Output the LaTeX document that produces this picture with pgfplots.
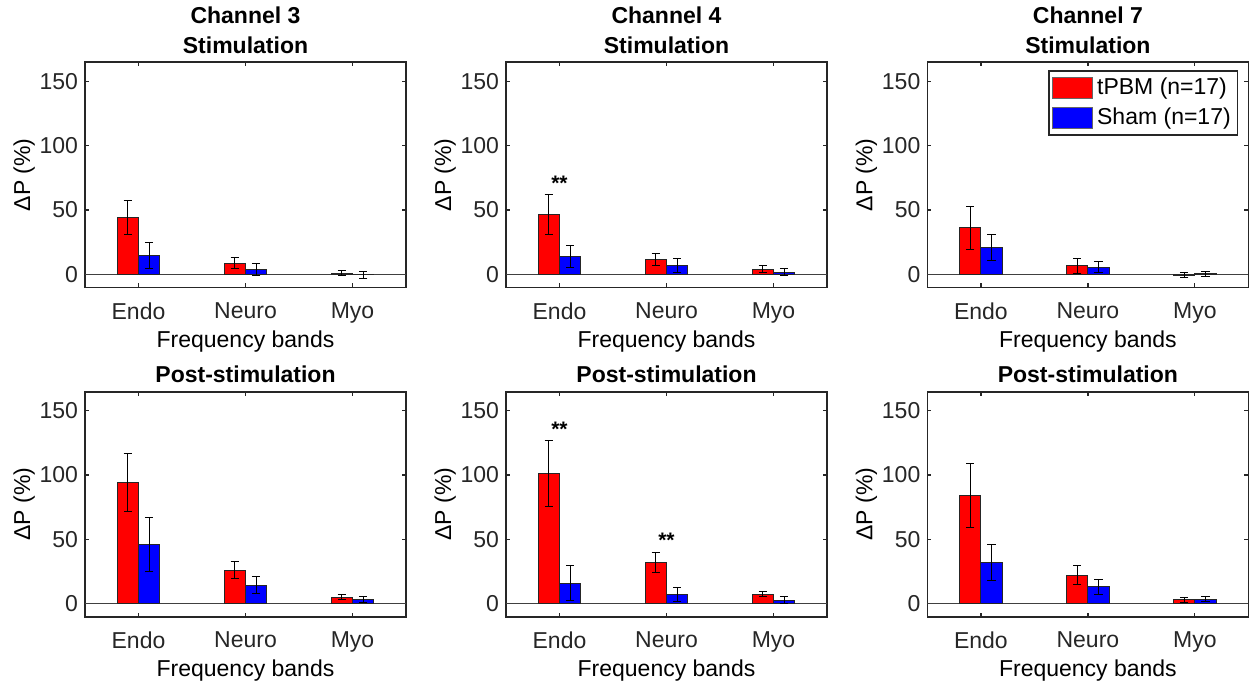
\documentclass[border=0pt]{standalone}
\usepackage{pgfplots}
\usepackage{pgfplotstable}
\pgfplotsset{compat=1.18}
\usepackage{fontspec}
\setmainfont{Liberation Sans}
\definecolor{axgray}{rgb}{0.15,0.15,0.15}

% columns: x, tPBM mean, tPBM err, Sham mean, Sham err
\pgfplotstableread{
x r re b be
1 44.0 13.4 14.7 10.0
2 8.8 4.1 3.9 4.5
3 0.8 2.0 -0.2 2.6
}\tA
\pgfplotstableread{
x r re b be
1 46.5 15.3 14.0 8.3
2 11.4 4.7 7.0 5.2
3 3.9 2.7 1.8 3.0
}\tB
\pgfplotstableread{
x r re b be
1 36.2 16.5 20.7 9.9
2 6.7 5.9 5.7 4.1
3 -0.8 1.9 0.5 2.0
}\tC
\pgfplotstableread{
x r re b be
1 94.1 22.2 46.0 20.7
2 26.1 6.6 14.5 6.6
3 5.2 2.1 3.1 2.3
}\tD
\pgfplotstableread{
x r re b be
1 100.9 25.6 16.0 13.8
2 32.1 7.8 7.2 5.4
3 7.5 2.1 2.8 2.6
}\tE
\pgfplotstableread{
x r re b be
1 84.0 24.6 32.1 13.7
2 22.2 7.4 13.4 5.8
3 3.1 1.8 3.6 1.9
}\tF

\pgfplotsset{
  panel/.style={
    anchor=south west, scale only axis,
    width=160.5pt, height=112.5pt,
    xmin=0.5, xmax=3.5, ymin=-10, ymax=164.6,
    xtick={1,2,3}, xticklabels={Endo,Neuro,Myo},
    ytick={0,50,100,150},
    tick align=inside, major tick length=2pt,
    axis line style={axgray, line width=0.8pt},
    tick style={axgray, line width=0.6pt},
    ticklabel style={axgray},
    /pgf/number format/assume math mode=true,
    font=\fontsize{11.5}{14.5}\selectfont,
    xticklabel style={yshift=-4pt},
    xlabel={Frequency bands}, ylabel={ΔP (\%)},
    label style={black},
    ylabel style={yshift=-4.5pt},
    xlabel style={yshift=3pt},
    title style={font=\fontsize{11.5}{14.6}\selectfont\bfseries, align=center, yshift=-5pt},
    legend image code/.code={\draw[#1, draw=black!60, line width=0.5pt] (0pt,-5.1pt) rectangle (20pt,5.1pt);},
  },
  redbar/.style={ybar, bar width=0.2, bar shift=-0.1, fill=red, draw=black!85, line width=0.45pt},
  bluebar/.style={ybar, bar width=0.2, bar shift=0.1, fill=blue, draw=black!85, line width=0.45pt},
  ebar/.style={forget plot, draw=none, mark=none,
    error bars/.cd, y dir=both, y explicit, error mark=-,
    error bar style={draw=black, line width=0.5pt},
    error mark options={draw=black, rotate=90, mark size=2.1pt, line width=0.5pt}},
  zline/.style={black!75, line width=0.5pt, forget plot},
}
\newcommand{\stars}{\fontsize{10.5}{10.5}\selectfont\bfseries **}
\newcommand{\panelplots}[1]{%
  \addplot[zline] coordinates {(0.5,0) (3.5,0)};
  \addplot[redbar] table[x=x, y=r]{#1};
  \addplot[bluebar] table[x=x, y=b]{#1};
  \addplot[ebar] table[x expr=\thisrow{x}-0.1, y=r, y error=re]{#1};
  \addplot[ebar] table[x expr=\thisrow{x}+0.1, y=b, y error=be]{#1};
}

\begin{document}
\begin{tikzpicture}
\useasboundingbox (0,0) rectangle (625pt,341pt);

% Top row
\begin{axis}[panel, at={(42.5pt,197.35pt)}, title={Channel 3\\Stimulation}]
\panelplots{\tA}
\end{axis}

\begin{axis}[panel, at={(253pt,197.35pt)}, title={Channel 4\\Stimulation}]
\panelplots{\tB}
\node[anchor=base, inner sep=0pt] at (axis cs:1,65) {\stars};
\end{axis}

\begin{axis}[panel, at={(463.7pt,197.35pt)}, title={Channel 7\\Stimulation},
  legend style={at={(0.969,0.964)}, anchor=north east, draw=black!85, line width=0.7pt,
    fill=white, inner sep=1.5pt, row sep=1.2pt, cells={anchor=west},
    font=\fontsize{11.5}{13}\selectfont, /tikz/every even column/.style={column sep=1pt}}]
\addplot[zline] coordinates {(0.5,0) (3.5,0)};
\addplot[redbar] table[x=x, y=r]{\tC};
\addlegendentry{tPBM (n=17)}
\addplot[bluebar] table[x=x, y=b]{\tC};
\addlegendentry{Sham (n=17)}
\addplot[ebar] table[x expr=\thisrow{x}-0.1, y=r, y error=re]{\tC};
\addplot[ebar] table[x expr=\thisrow{x}+0.1, y=b, y error=be]{\tC};
\end{axis}

% Bottom row
\begin{axis}[panel, at={(42.5pt,32.65pt)}, title={Post-stimulation}]
\panelplots{\tD}
\end{axis}

\begin{axis}[panel, at={(253pt,32.65pt)}, title={Post-stimulation}]
\panelplots{\tE}
\node[anchor=base, inner sep=0pt] at (axis cs:1,130) {\stars};
\node[anchor=base, inner sep=0pt] at (axis cs:2,43.4) {\stars};
\end{axis}

\begin{axis}[panel, at={(463.7pt,32.65pt)}, title={Post-stimulation}]
\panelplots{\tF}
\end{axis}
\end{tikzpicture}
\end{document}
